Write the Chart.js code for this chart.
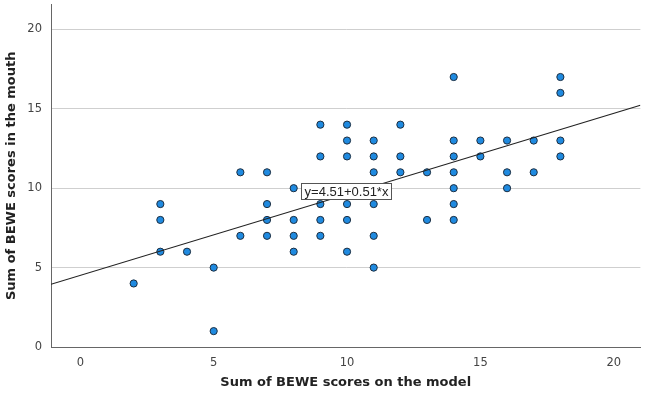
<!DOCTYPE html>
<html>
<head>
<meta charset="utf-8">
<script src="https://cdn.jsdelivr.net/npm/chart.js@4.4.1/dist/chart.umd.min.js"></script>
<style>
html,body{margin:0;padding:0;background:#fff;}
#wrap{width:645px;height:394px;position:relative;}
</style>
</head>
<body>
<div id="wrap"><canvas id="c" width="645" height="394"></canvas></div>
<script>
// Data: x = BEWE sum on the model, y = BEWE sum in the mouth
const modelScores = [2,3,3,3,4,5,5,6,6,
  7,7,7,7,8,8,8,8,
  9,9,9,9,9,9,
  10,10,10,10,10,10,10,
  11,11,11,11,11,11,11,
  12,12,12,13,13,
  14,14,14,14,14,14,14,
  15,15,16,16,16,17,17,
  18,18,18,18];
const mouthScores = [4,9,8,6,6,5,1,11,7,
  11,9,8,7,10,8,7,6,
  14,12,10,9,8,7,
  14,13,12,10,9,8,6,
  13,12,11,10,9,7,5,
  14,12,11,11,8,
  17,13,12,11,10,9,8,
  13,12,13,11,10,13,11,
  17,16,13,12];
const fitIntercept = 4.51;
const fitSlope = 0.51;
const fitLabel = "y=4.51+0.51*x";
const tickValues = [0,5,10,15,20];
const xTitle = "Sum of BEWE scores on the model";
const yTitle = "Sum of BEWE scores in the mouth";

const X_MIN = -1.1, X_MAX = 21.0, Y_MIN = 0, Y_MAX = 21.56;

const points = modelScores.map((x,i) => ({x:x, y:mouthScores[i]}));
const fitLine = [X_MIN, X_MAX].map(x => ({x:x, y:fitIntercept + fitSlope*x}));

const labelPlugin = {
  id:'fitLabel',
  afterDatasetsDraw(chart){
    const ctx = chart.ctx;
    const xs = chart.scales.x, ys = chart.scales.y;
    const cx = xs.getPixelForValue(9.95), cy = ys.getPixelForValue(9.8);
    ctx.save();
    ctx.font = '13px "Liberation Sans", Arial, sans-serif';
    const w = Math.round(ctx.measureText(fitLabel).width + 6);
    const h = 16;
    const x0 = Math.round(cx - w/2), y0 = Math.round(cy - h/2);
    ctx.fillStyle = '#fff';
    ctx.fillRect(x0, y0, w, h);
    ctx.strokeStyle = '#555';
    ctx.lineWidth = 1;
    ctx.strokeRect(x0 + 0.5, y0 + 0.5, w, h);
    ctx.fillStyle = '#222';
    ctx.textAlign = 'center';
    ctx.textBaseline = 'middle';
    ctx.fillText(fitLabel, x0 + w/2 + 0.5, y0 + h/2 + 1.5);
    ctx.restore();
  }
};

new Chart(document.getElementById('c'), {
  type:'scatter',
  data:{
    datasets:[
      {type:'scatter', data:points, pointRadius:3.6, pointHoverRadius:3.6,
       backgroundColor:'#1f8ae0', borderColor:'#1d2e40', borderWidth:1, order:2},
      {type:'line', data:fitLine, borderColor:'#222', borderWidth:1.2, pointRadius:0,
       fill:false, tension:0, order:1}
    ]
  },
  options:{
    responsive:false, animation:false,
    layout:{padding:{top:2, right:4, left:0, bottom:0}},
    plugins:{legend:{display:false}, tooltip:{enabled:false}},
    scales:{
      x:{type:'linear', min:X_MIN, max:X_MAX,
        afterBuildTicks(s){ s.ticks = tickValues.map(v=>({value:v})); },
        afterFit(s){ s.height = 47; s.paddingLeft = 0; s.paddingRight = 0; },
        grid:{display:false, drawTicks:false},
        border:{display:true, color:'#666', width:1},
        ticks:{color:'#444', font:{family:'"DejaVu Sans", sans-serif', size:11.5}, padding:9, maxRotation:0},
        title:{display:true, text:xTitle, color:'#222', font:{family:'"DejaVu Sans", sans-serif', size:13, weight:'bold'}, padding:{top:5}}
      },
      y:{type:'linear', min:Y_MIN, max:Y_MAX,
        afterBuildTicks(s){ s.ticks = tickValues.map(v=>({value:v})); },
        afterFit(s){ s.width = 51; s.paddingTop = 0; s.paddingBottom = 0; },
        grid:{display:true, color:c => c.tick && c.tick.value === 0 ? 'rgba(0,0,0,0)' : '#cfcfcf', lineWidth:1, drawTicks:false},
        border:{display:true, color:'#666', width:1},
        ticks:{color:'#444', font:{family:'"DejaVu Sans", sans-serif', size:11.5}, padding:9},
        title:{display:true, text:yTitle, color:'#222', font:{family:'"DejaVu Sans", sans-serif', size:13, weight:'bold'}, padding:{bottom:4}}
      }
    }
  },
  plugins:[labelPlugin]
});
</script>
</body>
</html>
